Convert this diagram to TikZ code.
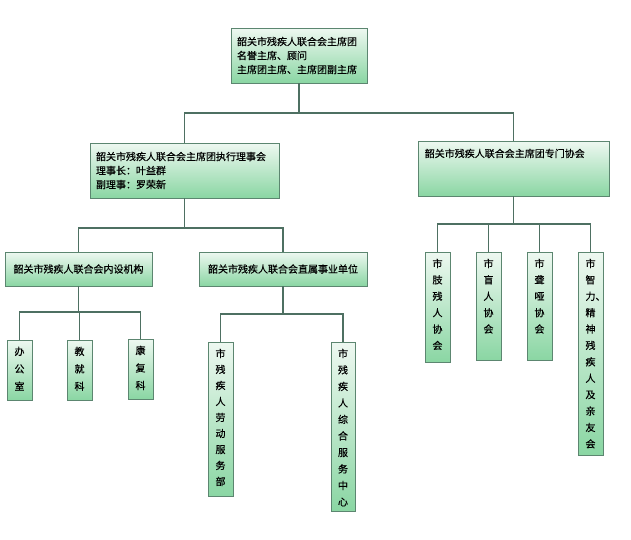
\documentclass[tikz,border=0pt]{standalone}
\usepackage{fontspec}
\setmainfont[FakeBold=0.5]{Noto Sans CJK SC}
\definecolor{boxtop}{RGB}{238,248,241}
\definecolor{boxbot}{RGB}{138,214,163}
\definecolor{boxline}{RGB}{92,134,112}
\definecolor{linkline}{RGB}{78,112,98}
\tikzset{
  orgbox/.style={draw=boxline,line width=0.9pt,top color=boxtop,bottom color=boxbot,
    inner sep=6pt,align=left,font=\fontsize{10}{14}\selectfont},
  vbox/.style={orgbox,inner sep=0pt,minimum width=25pt},
  vtext/.style={align=center,anchor=north,inner sep=0pt,yshift=-7pt,
    font=\fontsize{10}{16.4}\selectfont},
  link/.style={draw=linkline,line width=1.1pt}
}
\begin{document}
\begin{tikzpicture}[x=1pt,y=-1pt]
\useasboundingbox (0,0) rectangle (631,539);
\node[orgbox,minimum width=136,minimum height=55,text width=124] (top) at (299,55.5) {韶关市残疾人联合会主席团\\名誉主席、顾问\\主席团主席、主席团副主席};
\node[orgbox,minimum width=189,minimum height=55,text width=177] (exec) at (184.5,170.5) {韶关市残疾人联合会主席团执行理事会\\理事长：叶益群\\副理事：罗荣新};
\node[orgbox,minimum width=191,minimum height=55,
  label={[font=\fontsize{10}{14}\selectfont,anchor=north west,inner sep=0pt,xshift=7pt,yshift=-8pt]north west:韶关市残疾人联合会主席团专门协会}] (spec) at (513.5,168.5) {};
\node[orgbox,minimum width=147,minimum height=34,align=center] (inner) at (78.5,269) {韶关市残疾人联合会内设机构};
\node[orgbox,minimum width=168,minimum height=34,align=center] (direct) at (283,269) {韶关市残疾人联合会直属事业单位};
\node[vbox,minimum height=60,label={[vtext,font=\fontsize{10}{17.5}\selectfont]north:{办\\公\\室}}] (office) at (19.5,370) {};
\node[vbox,minimum height=60,label={[vtext,font=\fontsize{10}{17.5}\selectfont]north:{教\\就\\科}}] (jiuye) at (79.5,370) {};
\node[vbox,minimum height=60,label={[vtext,font=\fontsize{10}{17.5}\selectfont]north:{康\\复\\科}}] (kangfu) at (140.5,369) {};
\node[vbox,minimum height=154,label={[vtext,font=\fontsize{10}{16}\selectfont]north:{市\\残\\疾\\人\\劳\\动\\服\\务\\部}}] (labor) at (220.5,419) {};
\node[vbox,minimum height=169,minimum width=24,label={[vtext,font=\fontsize{10}{16.5}\selectfont]north:{市\\残\\疾\\人\\综\\合\\服\\务\\中\\心}}] (service) at (343,426.5) {};
\node[vbox,minimum height=110,label={[vtext]north:{市\\肢\\残\\人\\协\\会}}] (limb) at (437.5,307) {};
\node[vbox,minimum height=108,label={[vtext]north:{市\\盲\\人\\协\\会}}] (blind) at (488.5,306) {};
\node[vbox,minimum height=108,label={[vtext]north:{市\\聋\\哑\\协\\会}}] (deaf) at (539.5,306) {};
\node[vbox,minimum height=203,label={[vtext]north:{市\\智\\力\rlap{、}\\精\\神\\残\\疾\\人\\及\\亲\\友\\会}}] (mental) at (590.5,353.5) {};
\coordinate (b0) at (0,113);
\coordinate (b1) at (0,228);
\coordinate (b2) at (0,224);
\coordinate (b3) at (0,312);
\coordinate (b4) at (0,314);
\draw[link] (top.south) -- (top.south |- b0);
\draw[link] (top.south |- b0) -| (exec.north);
\draw[link] (top.south |- b0) -| (spec.north);
\draw[link] (exec.south) -- (exec.south |- b1);
\draw[link] (exec.south |- b1) -| (inner.north);
\draw[link] (exec.south |- b1) -| (direct.north);
\draw[link] (inner.south) -- (inner.south |- b3);
\draw[link] (inner.south |- b3) -| (office.north);
\draw[link] (inner.south |- b3) -| (kangfu.north);
\draw[link] (jiuye.north |- b3) -- (jiuye.north);
\draw[link] (direct.south) -- (direct.south |- b4);
\draw[link] (direct.south |- b4) -| (labor.north);
\draw[link] (direct.south |- b4) -| (service.north);
\draw[link] (spec.south) -- (spec.south |- b2);
\draw[link] (spec.south |- b2) -| (limb.north);
\draw[link] (spec.south |- b2) -| (mental.north);
\draw[link] (blind.north |- b2) -- (blind.north);
\draw[link] (deaf.north |- b2) -- (deaf.north);
\end{tikzpicture}
\end{document}
